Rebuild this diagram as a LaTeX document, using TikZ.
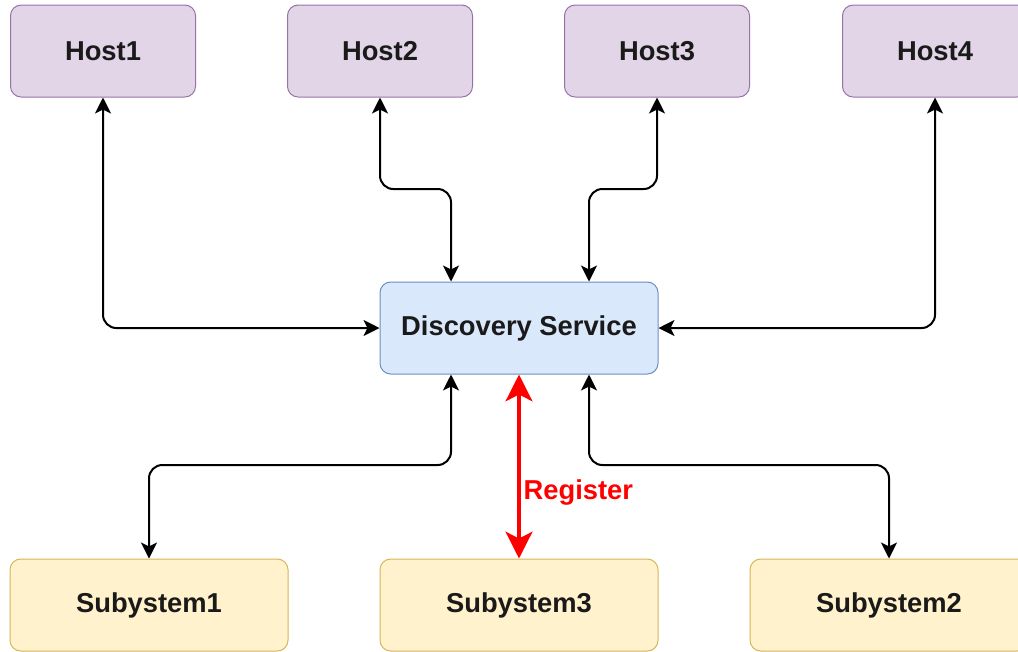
\documentclass[tikz,border=0pt]{standalone}
\usepackage{fontspec}
\setmainfont{Liberation Sans}
\usepackage{tikz, xcolor}
\usetikzlibrary{shapes,arrows.meta}

\definecolor{hostfill}{HTML}{E1D5E7}
\definecolor{hostdraw}{HTML}{9673A6}
\definecolor{dsfill}{HTML}{DAE8FC}
\definecolor{dsdraw}{HTML}{6C8EBF}
\definecolor{subfill}{HTML}{FFF2CC}
\definecolor{subdraw}{HTML}{D6B656}
\definecolor{regred}{HTML}{FF0000}
\definecolor{textdark}{HTML}{1A1A1A}

\begin{document}
\begin{tikzpicture}[x=0.75pt, y=-0.75pt]
\tikzstyle{boxstyle}=[rectangle, rounded corners=8pt, line width=0.75pt, minimum height=69pt, inner sep=2pt, text=textdark, font=\fontsize{20.5}{24}\selectfont\bfseries]
\tikzstyle{hostbox}=[boxstyle, draw=hostdraw, fill=hostfill, minimum width=138.75pt]
\tikzstyle{dsbox}=[boxstyle, draw=dsdraw, fill=dsfill, minimum width=208.5pt]
\tikzstyle{subbox}=[boxstyle, draw=subdraw, fill=subfill, minimum width=208.5pt]
\tikzstyle{drawstyle}=[line width=1.5pt, rounded corners=10pt, {Stealth[length=12pt,width=12pt,inset=3pt]}-{Stealth[length=12pt,width=12pt,inset=3pt]}]
\tikzstyle{regstyle}=[line width=3pt, draw=regred, {Stealth[length=20pt,width=20pt,inset=5pt]}-{Stealth[length=20pt,width=20pt,inset=5pt]}]

\useasboundingbox (0,0) rectangle (1018,651);

\node[hostbox] (H1) at (103,51) {Host1};
\node[hostbox] (H2) at (380,51) {Host2};
\node[hostbox] (H3) at (657,51) {Host3};
\node[hostbox] (H4) at (935,51) {Host4};
\node[dsbox] (DS) at (519,328) {Discovery Service};
\node[subbox] (S1) at (149,605) {Subystem1};
\node[subbox] (S3) at (519,605) {Subystem3};
\node[subbox] (S2) at (889,605) {Subystem2};

\draw[drawstyle] (H1.south) |- (DS.west);
\draw[drawstyle] (H2.south) -- (380,189) -- (451,189) -- (DS.north -| 451,0);
\draw[drawstyle] (H3.south) -- (657,189) -- (589,189) -- (DS.north -| 589,0);
\draw[drawstyle] (H4.south) |- (DS.east);
\draw[drawstyle] (DS.south -| 451,0) -- (451,465) -- (149,465) -- (S1.north);
\draw[drawstyle] (DS.south -| 589,0) -- (589,465) -- (889,465) -- (S2.north);
\draw[regstyle] (DS.south) -- (S3.north)
  node[pos=0.64, right, inner sep=2pt, text=regred, font=\fontsize{20.5}{24}\selectfont\bfseries] {Register};
\end{tikzpicture}
\end{document}
